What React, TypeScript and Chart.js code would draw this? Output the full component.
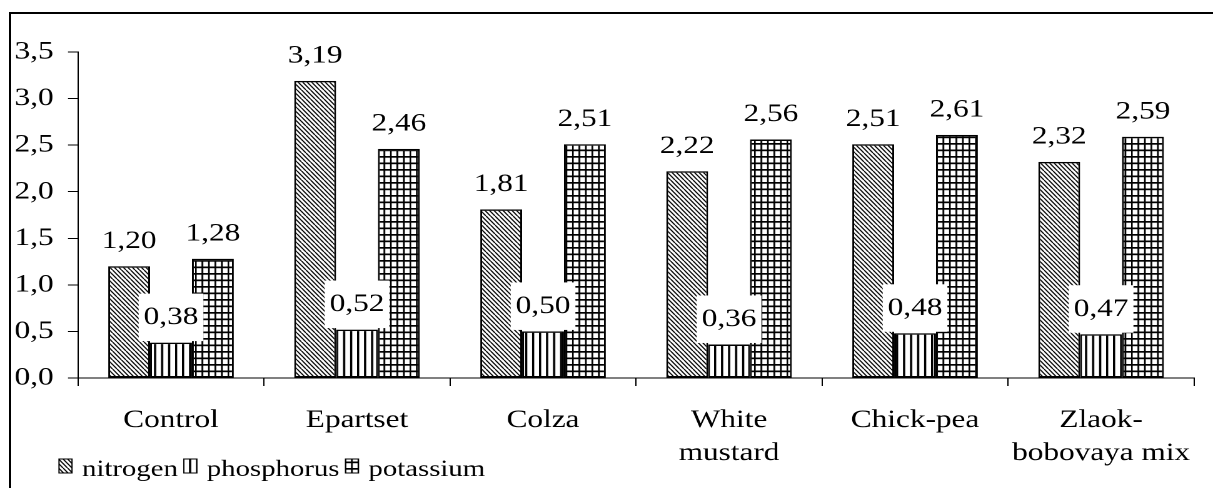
import React, { useEffect, useRef } from "react";
import { Chart, registerables } from "chart.js";

Chart.register(...registerables);

// ---------- data ----------
const categories: (string | string[])[] = [
  "Control",
  "Epartset",
  "Colza",
  ["White", "mustard"],
  "Chick-pea",
  ["Zlaok-", "bobovaya mix"],
];
const seriesNames = ["nitrogen", "phosphorus", "potassium"];
const nitrogen = [1.2, 3.19, 1.81, 2.22, 2.51, 2.32];
const phosphorus = [0.38, 0.52, 0.5, 0.36, 0.48, 0.47];
const potassium = [1.28, 2.46, 2.51, 2.56, 2.61, 2.59];
const yTickLabels = ["0,0", "0,5", "1,0", "1,5", "2,0", "2,5", "3,0", "3,5"];
const Y_MIN = 0;
const Y_MAX = 3.5;
const Y_STEP = 0.5;

// ---------- layout ----------
const VIEW_W = 1213;
const VIEW_H = 488;
const STRETCH = 1.25;
const CANVAS_W = Math.round(VIEW_W / STRETCH);
const SX = VIEW_W / CANVAS_W;
const DPR = 2;
const FONT = "'Liberation Serif', 'Times New Roman', serif";
const FS = 25;

type Kind = "diag" | "vert" | "grid";

// tiles are drawn at DPR resolution in screen-pixel units
function makePattern(ctx: CanvasRenderingContext2D, kind: Kind): CanvasPattern {
  const c = document.createElement("canvas");
  const g = c.getContext("2d")!;
  const R = DPR;
  if (kind === "diag") {
    const n = 4.5;
    c.width = n * R * 2;
    c.height = n * R * 2;
    g.fillStyle = "#fff";
    g.fillRect(0, 0, c.width, c.height);
    g.strokeStyle = "#000";
    g.lineWidth = 1.2 * R;
    g.beginPath();
    for (let k = -3; k <= 3; k++) {
      const o = k * n * R;
      g.moveTo(o, 0);
      g.lineTo(o + c.height, c.height);
    }
    g.stroke();
  } else if (kind === "vert") {
    c.width = 7 * R;
    c.height = 4 * R;
    g.fillStyle = "#fff";
    g.fillRect(0, 0, c.width, c.height);
    g.fillStyle = "#000";
    g.fillRect(0, 0, 2.2 * R, c.height);
  } else {
    c.width = 13 * R;
    c.height = 13 * R;
    g.fillStyle = "#fff";
    g.fillRect(0, 0, c.width, c.height);
    g.fillStyle = "#000";
    const lw = 1.7 * R;
    g.fillRect(0, 0, lw, c.height);
    g.fillRect(6.5 * R, 0, lw, c.height);
    g.fillRect(0, 0, c.width, lw);
    g.fillRect(0, 6.5 * R, c.width, lw);
  }
  const p = ctx.createPattern(c, "repeat")!;
  p.setTransform(new DOMMatrix([1 / (SX * R), 0, 0, 1 / R, 0, 0]));
  return p;
}

const fmt2 = (v: number) => v.toFixed(2).replace(".", ",");

const valueLabelPlugin = {
  id: "valueLabels",
  afterDatasetsDraw(chart: any) {
    const ctx: CanvasRenderingContext2D = chart.ctx;
    ctx.save();
    ctx.font = `${FS}px ${FONT}`;
    ctx.textAlign = "center";
    ctx.textBaseline = "middle";
    chart.data.datasets.forEach((ds: any, di: number) => {
      const meta = chart.getDatasetMeta(di);
      meta.data.forEach((el: any, i: number) => {
        const txt = fmt2(ds.data[i]);
        const cy = el.y - 25;
        const tw = ctx.measureText(txt).width;
        ctx.fillStyle = "#fff";
        ctx.fillRect(el.x - tw / 2 - 4, cy - 24, tw + 8, 47.5);
        ctx.fillStyle = "#000";
        ctx.fillText(txt, el.x, cy);
      });
    });
    ctx.restore();
  },
};

const legendPlugin = {
  id: "customLegend",
  afterDraw(chart: any) {
    const ctx: CanvasRenderingContext2D = chart.ctx;
    ctx.save();
    ctx.font = `23px ${FONT}`;
    ctx.textAlign = "left";
    ctx.textBaseline = "alphabetic";
    const boxW = 13 / SX;
    const boxH = 14;
    const boxTop = 459;
    let x = 59 / SX;
    chart.data.datasets.forEach((ds: any) => {
      ctx.fillStyle = ds.backgroundColor;
      ctx.fillRect(x, boxTop, boxW, boxH);
      ctx.strokeStyle = "#000";
      ctx.lineWidth = 1;
      ctx.strokeRect(x, boxTop, boxW, boxH);
      x += boxW + 10 / SX;
      ctx.fillStyle = "#000";
      ctx.fillText(ds.label, x, 476);
      x += ctx.measureText(ds.label).width + 6 / SX;
    });
    ctx.restore();
  },
};

export default function App() {
  const ref = useRef<HTMLCanvasElement>(null);

  useEffect(() => {
    const canvas = ref.current!;
    const ctx = canvas.getContext("2d")!;
    const patterns = [
      makePattern(ctx, "diag"),
      makePattern(ctx, "vert"),
      makePattern(ctx, "grid"),
    ];
    const series = [nitrogen, phosphorus, potassium];
    const tickFont = { family: FONT, size: FS, lineHeight: 33 / FS };

    const chart = new Chart(canvas, {
      type: "bar",
      data: {
        labels: categories,
        datasets: series.map((d, i) => ({
          label: seriesNames[i],
          data: d,
          backgroundColor: patterns[i] as any,
          borderColor: "#000",
          borderWidth: 1.5,
          borderSkipped: false,
          categoryPercentage: 0.675,
          barPercentage: 1,
        })),
      },
      options: {
        animation: false,
        responsive: false,
        devicePixelRatio: DPR,
        layout: {
          padding: { left: 0, top: 52, bottom: 0, right: CANVAS_W - 1208 / SX },
        },
        plugins: {
          legend: { display: false },
          tooltip: { enabled: false },
        },
        scales: {
          x: {
            type: "category",
            afterFit: (s: any) => {
              s.height = 110;
            },
            grid: {
              display: true,
              drawOnChartArea: false,
              drawTicks: true,
              tickLength: 8,
              color: "#000",
              lineWidth: 1,
              offset: true,
            },
            border: { display: true, color: "#000", width: 1 },
            ticks: {
              color: "#000",
              font: tickFont,
              padding: 18,
              autoSkip: false,
              maxRotation: 0,
              minRotation: 0,
            },
          },
          y: {
            min: Y_MIN,
            max: Y_MAX,
            afterFit: (s: any) => {
              s.width = 78 / SX;
            },
            grid: {
              display: true,
              drawOnChartArea: false,
              drawTicks: true,
              tickLength: 8,
              color: "#000",
              lineWidth: 1,
            },
            border: { display: true, color: "#000", width: 1 },
            ticks: {
              stepSize: Y_STEP,
              color: "#000",
              font: { family: FONT, size: FS },
              padding: 19.5 - 8,
              callback: (_v: any, idx: number) => yTickLabels[idx],
            },
          },
        },
      },
      plugins: [valueLabelPlugin, legendPlugin],
    });
    return () => chart.destroy();
  }, []);

  return (
    <div
      style={{
        position: "fixed",
        left: 0,
        top: 0,
        width: VIEW_W,
        height: VIEW_H,
        background: "#fff",
        overflow: "hidden",
      }}
    >
      <canvas
        ref={ref}
        width={CANVAS_W}
        height={VIEW_H}
        style={{
          position: "absolute",
          left: 0,
          top: 0,
          width: `${VIEW_W}px`,
          height: `${VIEW_H}px`,
        }}
      />
      <div
        style={{
          position: "absolute",
          left: 9,
          top: 12,
          width: 1400,
          height: 700,
          borderLeft: "2px solid #000",
          borderTop: "2px solid #000",
          pointerEvents: "none",
        }}
      />
    </div>
  );
}
